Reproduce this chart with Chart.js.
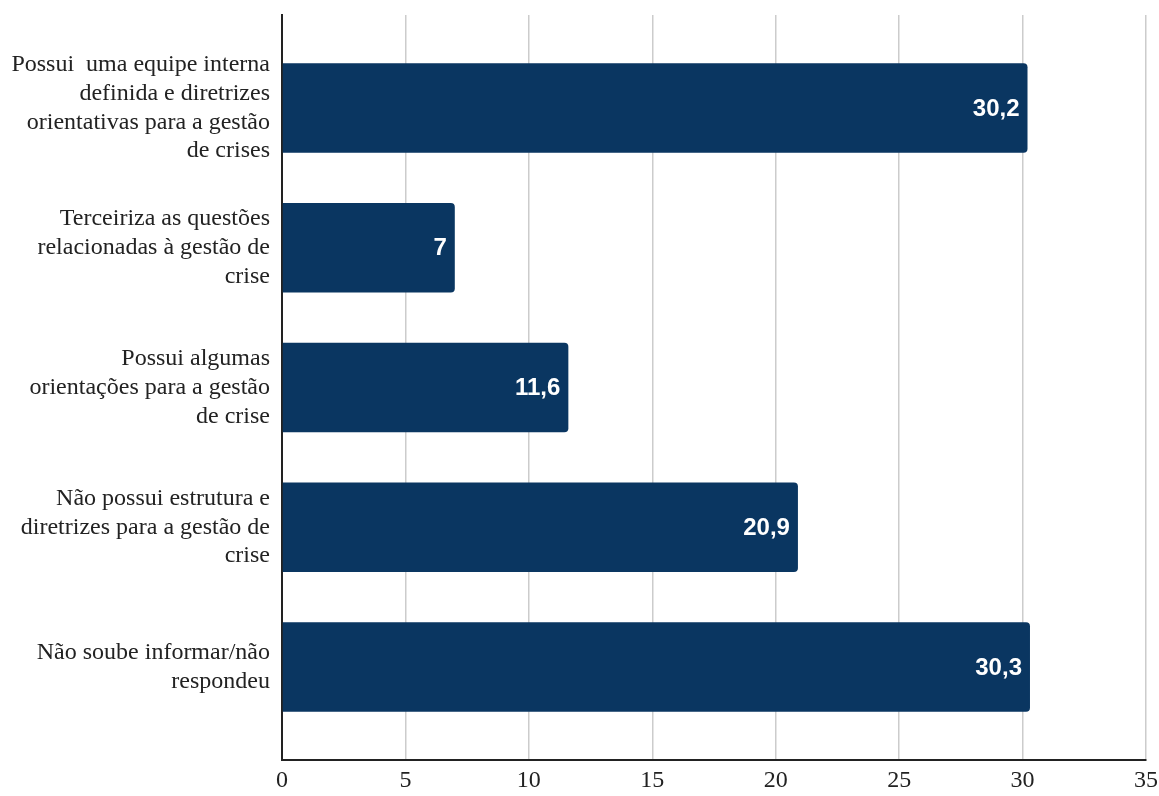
<!DOCTYPE html>
<html>
<head>
<meta charset="utf-8">
<script src="https://cdn.jsdelivr.net/npm/chart.js@4"></script>
<style>
  html, body { margin: 0; padding: 0; background: #fff; }
  #wrap { width: 1159px; height: 796px; }
</style>
</head>
<body>
<div id="wrap"><canvas id="barChart"></canvas></div>
<script>
const categories = [
    ['Possui  uma equipe interna', 'definida e diretrizes', 'orientativas para a gestão', 'de crises'],
    ['Terceiriza as questões', 'relacionadas à gestão de', 'crise'],
    ['Possui algumas', 'orientações para a gestão', 'de crise'],
    ['Não possui estrutura e', 'diretrizes para a gestão de', 'crise'],
    ['Não soube informar/não', 'respondeu']
];
const values = [30.2, 7, 11.6, 20.9, 30.3];
const xTicks = [0, 5, 10, 15, 20, 25, 30, 35];

const barColor = '#0a3661';
const serif = '"Liberation Serif", "Times New Roman", serif';

// value labels inside the end of each bar
const valueLabels = {
    id: 'valueLabels',
    afterDatasetsDraw(chart) {
        const ctx = chart.ctx;
        const meta = chart.getDatasetMeta(0);
        ctx.save();
        ctx.fillStyle = '#ffffff';
        ctx.font = 'bold 24px "Liberation Sans", Arial, sans-serif';
        ctx.textAlign = 'right';
        ctx.textBaseline = 'middle';
        meta.data.forEach(function(bar, i) {
            const txt = String(values[i]).replace('.', ',');
            ctx.fillText(txt, bar.x - 8, bar.y + 1);
        });
        ctx.restore();
    }
};

new Chart(document.getElementById('barChart').getContext('2d'), {
    type: 'bar',
    data: {
        datasets: [{
            data: values.map(function(v, i) { return { x: v, y: i }; }),
            backgroundColor: barColor,
            borderRadius: 4,
            borderSkipped: 'start',
            barPercentage: 0.8,
            categoryPercentage: 0.8
        }]
    },
    options: {
        indexAxis: 'y',
        responsive: true,
        maintainAspectRatio: false,
        animation: false,
        layout: { padding: { top: 15, right: 13, left: 0, bottom: 0 } },
        plugins: {
            legend: { display: false },
            tooltip: { enabled: false }
        },
        scales: {
            x: {
                type: 'linear',
                min: 0,
                max: 35,
                afterBuildTicks: function(s) { s.ticks = xTicks.map(function(v) { return { value: v }; }); },
                afterFit: function(s) { s.height = 36; s.paddingLeft = 0; s.paddingRight = 0; },
                grid: { color: '#cccccc', lineWidth: 1.5, drawTicks: false },
                border: { display: true, color: '#222222', width: 2 },
                ticks: {
                    color: '#222222',
                    padding: 6,
                    font: { family: serif, size: 24 }
                }
            },
            y: {
                type: 'linear',
                reverse: true,
                offset: false,
                min: -0.665,
                max: 4.665,
                afterBuildTicks: function(s) { s.ticks = categories.map(function(c, i) { return { value: i }; }); },
                afterFit: function(s) { s.width = 282; s.paddingTop = 0; s.paddingBottom = 0; },
                grid: { display: false, drawTicks: false },
                border: { display: true, color: '#222222', width: 2 },
                ticks: {
                    color: '#222222',
                    padding: 12,
                    autoSkip: false,
                    callback: function(v) { return categories[v]; },
                    font: { family: serif, size: 24, lineHeight: 1.2 }
                }
            }
        }
    },
    plugins: [valueLabels]
});
</script>
</body>
</html>
